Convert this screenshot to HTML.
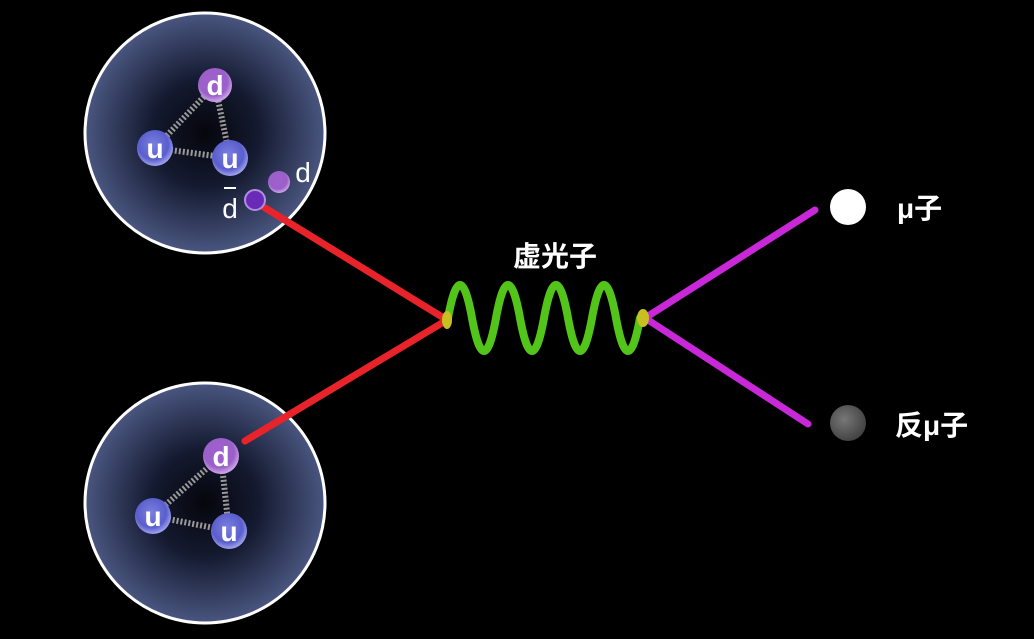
<!DOCTYPE html>
<html><head><meta charset="utf-8"><style>
html,body{margin:0;padding:0;background:#000;}
svg{display:block}
text{font-family:"Liberation Sans","Noto Sans CJK SC",sans-serif;fill:#fff}
</style></head><body>
<svg width="1034" height="639" viewBox="0 0 1034 639" xmlns="http://www.w3.org/2000/svg">
<defs>
<radialGradient id="bg" cx="0.5" cy="0.5" r="0.5">
<stop offset="0" stop-color="#05060c"/>
<stop offset="0.45" stop-color="#141a30"/>
<stop offset="1" stop-color="#4a5680"/>
</radialGradient>
<radialGradient id="qu" cx="0.45" cy="0.4" r="0.6">
<stop offset="0" stop-color="#7a7fe0"/><stop offset="0.7" stop-color="#5a5ecc"/><stop offset="1" stop-color="#a0a4f0"/>
</radialGradient>
<radialGradient id="qd" cx="0.45" cy="0.4" r="0.6">
<stop offset="0" stop-color="#a060d0"/><stop offset="0.7" stop-color="#9a60c8"/><stop offset="1" stop-color="#d0a8ee"/>
</radialGradient>
<radialGradient id="gr" cx="0.4" cy="0.4" r="0.6">
<stop offset="0" stop-color="#777"/><stop offset="1" stop-color="#444"/>
</radialGradient>
</defs>
<rect width="1034" height="639" fill="#000"/>
<circle cx="205" cy="133" r="120" fill="url(#bg)" stroke="#fff" stroke-width="3"/>
<g stroke="#999" stroke-width="6" stroke-dasharray="2 2">
<line x1="215" y1="85" x2="155" y2="148"/><line x1="215" y1="85" x2="230" y2="158"/><line x1="155" y1="148" x2="230" y2="158"/>
</g>
<circle cx="215" cy="85" r="17" fill="url(#qd)"/>
<circle cx="155" cy="148" r="18" fill="url(#qu)"/>
<circle cx="230" cy="158" r="18" fill="url(#qu)"/>
<text x="215" y="95" font-size="28" font-weight="bold" text-anchor="middle">d</text>
<text x="155" y="158" font-size="28" font-weight="bold" text-anchor="middle">u</text>
<text x="230" y="168" font-size="28" font-weight="bold" text-anchor="middle">u</text>
<circle cx="205" cy="503" r="120" fill="url(#bg)" stroke="#fff" stroke-width="3"/>
<g stroke="#999" stroke-width="6" stroke-dasharray="2 2">
<line x1="221" y1="456" x2="153" y2="516"/><line x1="221" y1="456" x2="229" y2="531"/><line x1="153" y1="516" x2="229" y2="531"/>
</g>
<g stroke="#e8242a" stroke-width="7" stroke-linecap="round">
<line x1="262" y1="206" x2="447" y2="320"/>
<line x1="245" y1="441" x2="447" y2="320"/>
</g>
<circle cx="221" cy="456" r="18" fill="url(#qd)"/>
<circle cx="153" cy="516" r="18" fill="url(#qu)"/>
<circle cx="229" cy="531" r="18" fill="url(#qu)"/>
<text x="221" y="466" font-size="28" font-weight="bold" text-anchor="middle">d</text>
<text x="153" y="526" font-size="28" font-weight="bold" text-anchor="middle">u</text>
<text x="229" y="541" font-size="28" font-weight="bold" text-anchor="middle">u</text>
<circle cx="279" cy="182" r="11" fill="url(#qd)"/>
<circle cx="255" cy="200" r="10" fill="#6a2ab8" stroke="#b08ee0" stroke-width="2"/>
<text x="303" y="182" font-size="28" text-anchor="middle">d</text>
<text x="230" y="218" font-size="28" text-anchor="middle">d</text>
<line x1="224" y1="188" x2="236" y2="188" stroke="#fff" stroke-width="2"/>
<path d="M448 318 q12 -66 24 0 t24 0 t24 0 t24 0 t24 0 t24 0 t24 0 t24 0" fill="none" stroke="#52c41a" stroke-width="8" stroke-linecap="round"/>
<g stroke="#c828d8" stroke-width="7" stroke-linecap="round">
<line x1="645" y1="318" x2="815" y2="210"/>
<line x1="645" y1="318" x2="808" y2="424"/>
</g>
<ellipse cx="447" cy="320" rx="5" ry="9" fill="#c8c020"/>
<ellipse cx="643" cy="318" rx="6" ry="9" fill="#c8c020"/>
<text x="555" y="266" font-size="28" font-weight="bold" text-anchor="middle">虚光子</text>
<circle cx="848" cy="207" r="18" fill="#fff"/>
<circle cx="848" cy="423" r="18" fill="url(#gr)"/>
<text x="897" y="218" font-size="28" font-weight="bold">μ子</text>
<text x="895" y="435" font-size="28" font-weight="bold">反μ子</text>
</svg>
</body></html>
